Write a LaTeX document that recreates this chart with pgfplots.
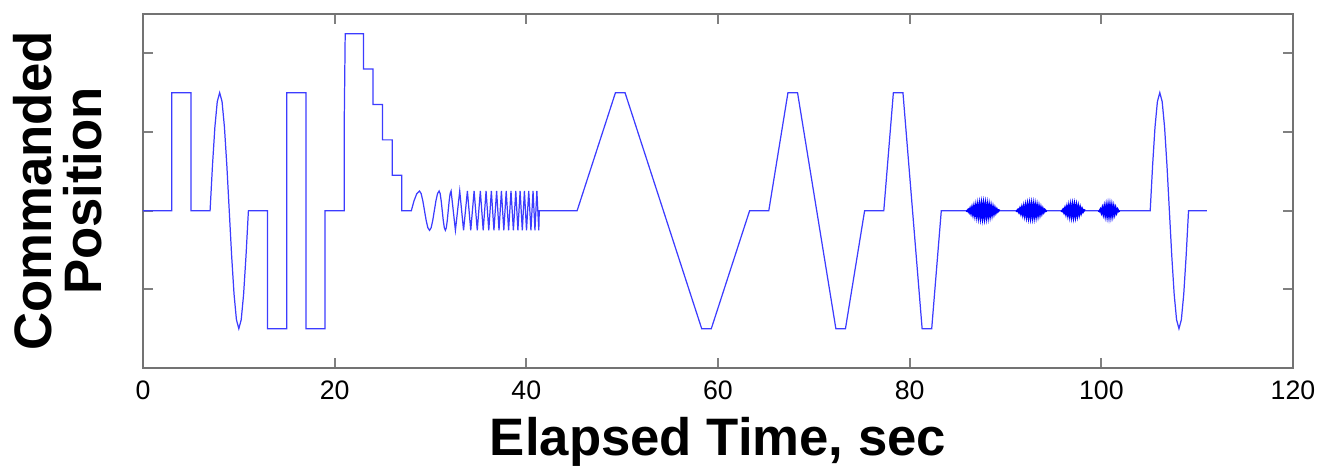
\documentclass[border=0pt]{standalone}
\usepackage{fontspec}
\setmainfont{Liberation Sans}
\usepackage{pgfplots}
\pgfplotsset{compat=1.18}
\definecolor{linec}{RGB}{60,60,255}
\begin{document}
\begin{tikzpicture}
\useasboundingbox (-1.43cm,-1.02cm) rectangle (11.82cm,3.68cm);
\begin{axis}[
  at={(0,0)}, anchor=south west,
  scale only axis, width=11.5cm, height=3.54cm,
  xmin=0, xmax=120, ymin=-2, ymax=2.5,
  xtick={0,20,...,120}, ytick={-1,0,1,2}, yticklabels={},
  major tick length=0.1cm,
  axis line style={black!55, line width=0.5pt},
  tick style={black!50, line width=0.5pt},
  /pgf/number format/assume math mode=true,
  xticklabel style={font=\fontsize{7.6}{8}\selectfont},
  xlabel={Elapsed Time, sec},
  xlabel style={font=\fontsize{15}{16}\selectfont\bfseries, at={([yshift=-0.87cm]rel axis cs:0.5,0)}, anchor=base},
  ylabel={Commanded\\Position},
  ylabel style={font=\fontsize{15}{14.2}\selectfont\bfseries, align=center, at={([xshift=-0.40cm]rel axis cs:0,0.5)}, anchor=south, inner sep=0pt},
]
\addplot[linec, line width=0.35pt] coordinates {
(0,0) (3,0) (3,1.5) (5,1.5) (5,0) (7,0)
(7.25,0.574) (7.5,1.061) (7.75,1.386) (8,1.5) (8.25,1.386) (8.5,1.061) (8.75,0.574) (9,0)
(9.25,-0.574) (9.5,-1.061) (9.75,-1.386) (10,-1.5) (10.25,-1.386) (10.5,-1.061) (10.75,-0.574) (11,0)
(13,0) (13,-1.5) (15,-1.5) (15,1.5) (17,1.5) (17,-1.5) (19,-1.5) (19,0) (21,0)
(21,1.125) (21.1,2.25) (23,2.25) (23,1.8) (24,1.8) (24,1.35) (25,1.35) (25,0.9) (26,0.9) (26,0.45) (27,0.45) (27,0) (28,0)
(28.28,0.125) (28.57,0.217) (28.85,0.25) (29.025,0.217) (29.2,0.125) (29.375,0) (29.55,-0.125) (29.725,-0.217) (29.9,-0.25)
(30.067,-0.217) (30.233,-0.125) (30.4,0) (30.567,0.125) (30.733,0.217) (30.9,0.25)
(31.008,0.217) (31.117,0.125) (31.225,0) (31.333,-0.125) (31.442,-0.217) (31.55,-0.25)
(31.65,-0.217) (31.75,-0.125) (31.85,0) (31.95,0.125) (32.05,0.217) (32.15,0.25)
(32.6,-0.25) (33.05,0.25) (33.45,-0.25) (33.85,0.25) (34.2,-0.25) (34.55,0.25) (34.88,-0.25) (35.2,0.25)
(35.5,-0.25) (35.8,0.25) (36.08,-0.25) (36.35,0.25) (36.62,-0.25) (36.9,0.25) (37.15,-0.25) (37.4,0.25)
(37.65,-0.25) (37.9,0.25) (38.15,-0.25) (38.4,0.25) (38.65,-0.25) (38.9,0.25) (39.12,-0.25) (39.35,0.25)
(39.58,-0.25) (39.8,0.25) (40.02,-0.25) (40.25,0.25) (40.48,-0.25) (40.7,0.25) (40.9,-0.25) (41.1,0.25)
(41.3,-0.25) (41.35,0)
(45.3,0) (49.3,1.5) (50.3,1.5) (58.3,-1.5) (59.3,-1.5) (63.3,0) (65.3,0) (67.3,1.5) (68.3,1.5) (72.3,-1.5) (73.3,-1.5) (75.3,0)
(77.3,0) (78.3,1.5) (79.3,1.5) (81.3,-1.5) (82.3,-1.5) (83.3,0) (105.1,0)
(105.35,0.574) (105.6,1.061) (105.85,1.386) (106.1,1.5) (106.35,1.386) (106.6,1.061) (106.85,0.574) (107.1,0)
(107.35,-0.574) (107.6,-1.061) (107.85,-1.386) (108.1,-1.5) (108.35,-1.386) (108.6,-1.061) (108.85,-0.574) (109.1,0)
(111,0)
};
\addplot[blue, line width=0.6pt] coordinates {
(85.9,0)
(86.0,-0.0053) (86.1,0.0105) (86.2,-0.0157) (86.3,0.0207) (86.4,-0.0256) (86.5,0.0303) (86.6,-0.0347) (86.7,0.0388)
(86.8,-0.0426) (86.9,0.0461) (87.0,-0.0492) (87.1,0.0520) (87.2,-0.0543) (87.3,0.0561) (87.4,-0.0575) (87.5,0.0585)
(87.6,-0.0589) (87.7,0.0589) (87.8,-0.0585) (87.9,0.0575) (88.0,-0.0561) (88.1,0.0543) (88.2,-0.0520) (88.3,0.0492)
(88.4,-0.0461) (88.5,0.0426) (88.6,-0.0388) (88.7,0.0347) (88.8,-0.0303) (88.9,0.0256) (89.0,-0.0207) (89.1,0.0157)
(89.2,-0.0105) (89.3,0.0053) (89.4,0)
};
\addplot[blue, line width=0.6pt] coordinates {
(91.1,0)
(91.2,-0.0054) (91.3,0.0107) (91.4,-0.0160) (91.5,0.0210) (91.6,-0.0259) (91.7,0.0306) (91.8,-0.0349) (91.9,0.0389)
(92.0,-0.0425) (92.1,0.0457) (92.2,-0.0485) (92.3,0.0508) (92.4,-0.0526) (92.5,0.0539) (92.6,-0.0547) (92.7,0.0550)
(92.8,-0.0547) (92.9,0.0539) (93.0,-0.0526) (93.1,0.0508) (93.2,-0.0485) (93.3,0.0457) (93.4,-0.0425) (93.5,0.0389)
(93.6,-0.0349) (93.7,0.0306) (93.8,-0.0259) (93.9,0.0210) (94.0,-0.0160) (94.1,0.0107) (94.2,-0.0054) (94.3,0)
};
\addplot[blue, line width=0.6pt] coordinates {
(95.8,0)
(95.9,-0.0064) (96.0,0.0127) (96.1,-0.0188) (96.2,0.0246) (96.3,-0.0300) (96.4,0.0349) (96.5,-0.0393) (96.6,0.0431)
(96.7,-0.0461) (96.8,0.0485) (96.9,-0.0501) (97.0,0.0509) (97.1,-0.0509) (97.2,0.0501) (97.3,-0.0485) (97.4,0.0461)
(97.5,-0.0431) (97.6,0.0393) (97.7,-0.0349) (97.8,0.0300) (97.9,-0.0246) (98.0,0.0188) (98.1,-0.0127) (98.2,0.0064)
(98.3,0)
};
\addplot[blue, line width=0.6pt] coordinates {
(99.7,0)
(99.8,-0.0073) (99.9,0.0144) (100.0,-0.0212) (100.1,0.0276) (100.2,-0.0334) (100.3,0.0385) (100.4,-0.0429) (100.5,0.0464)
(100.6,-0.0489) (100.7,0.0505) (100.8,-0.0510) (100.9,0.0505) (101.0,-0.0489) (101.1,0.0464) (101.2,-0.0429) (101.3,0.0385)
(101.4,-0.0334) (101.5,0.0276) (101.6,-0.0212) (101.7,0.0144) (101.8,-0.0073) (101.9,0)
};
\end{axis}
\end{tikzpicture}
\end{document}
